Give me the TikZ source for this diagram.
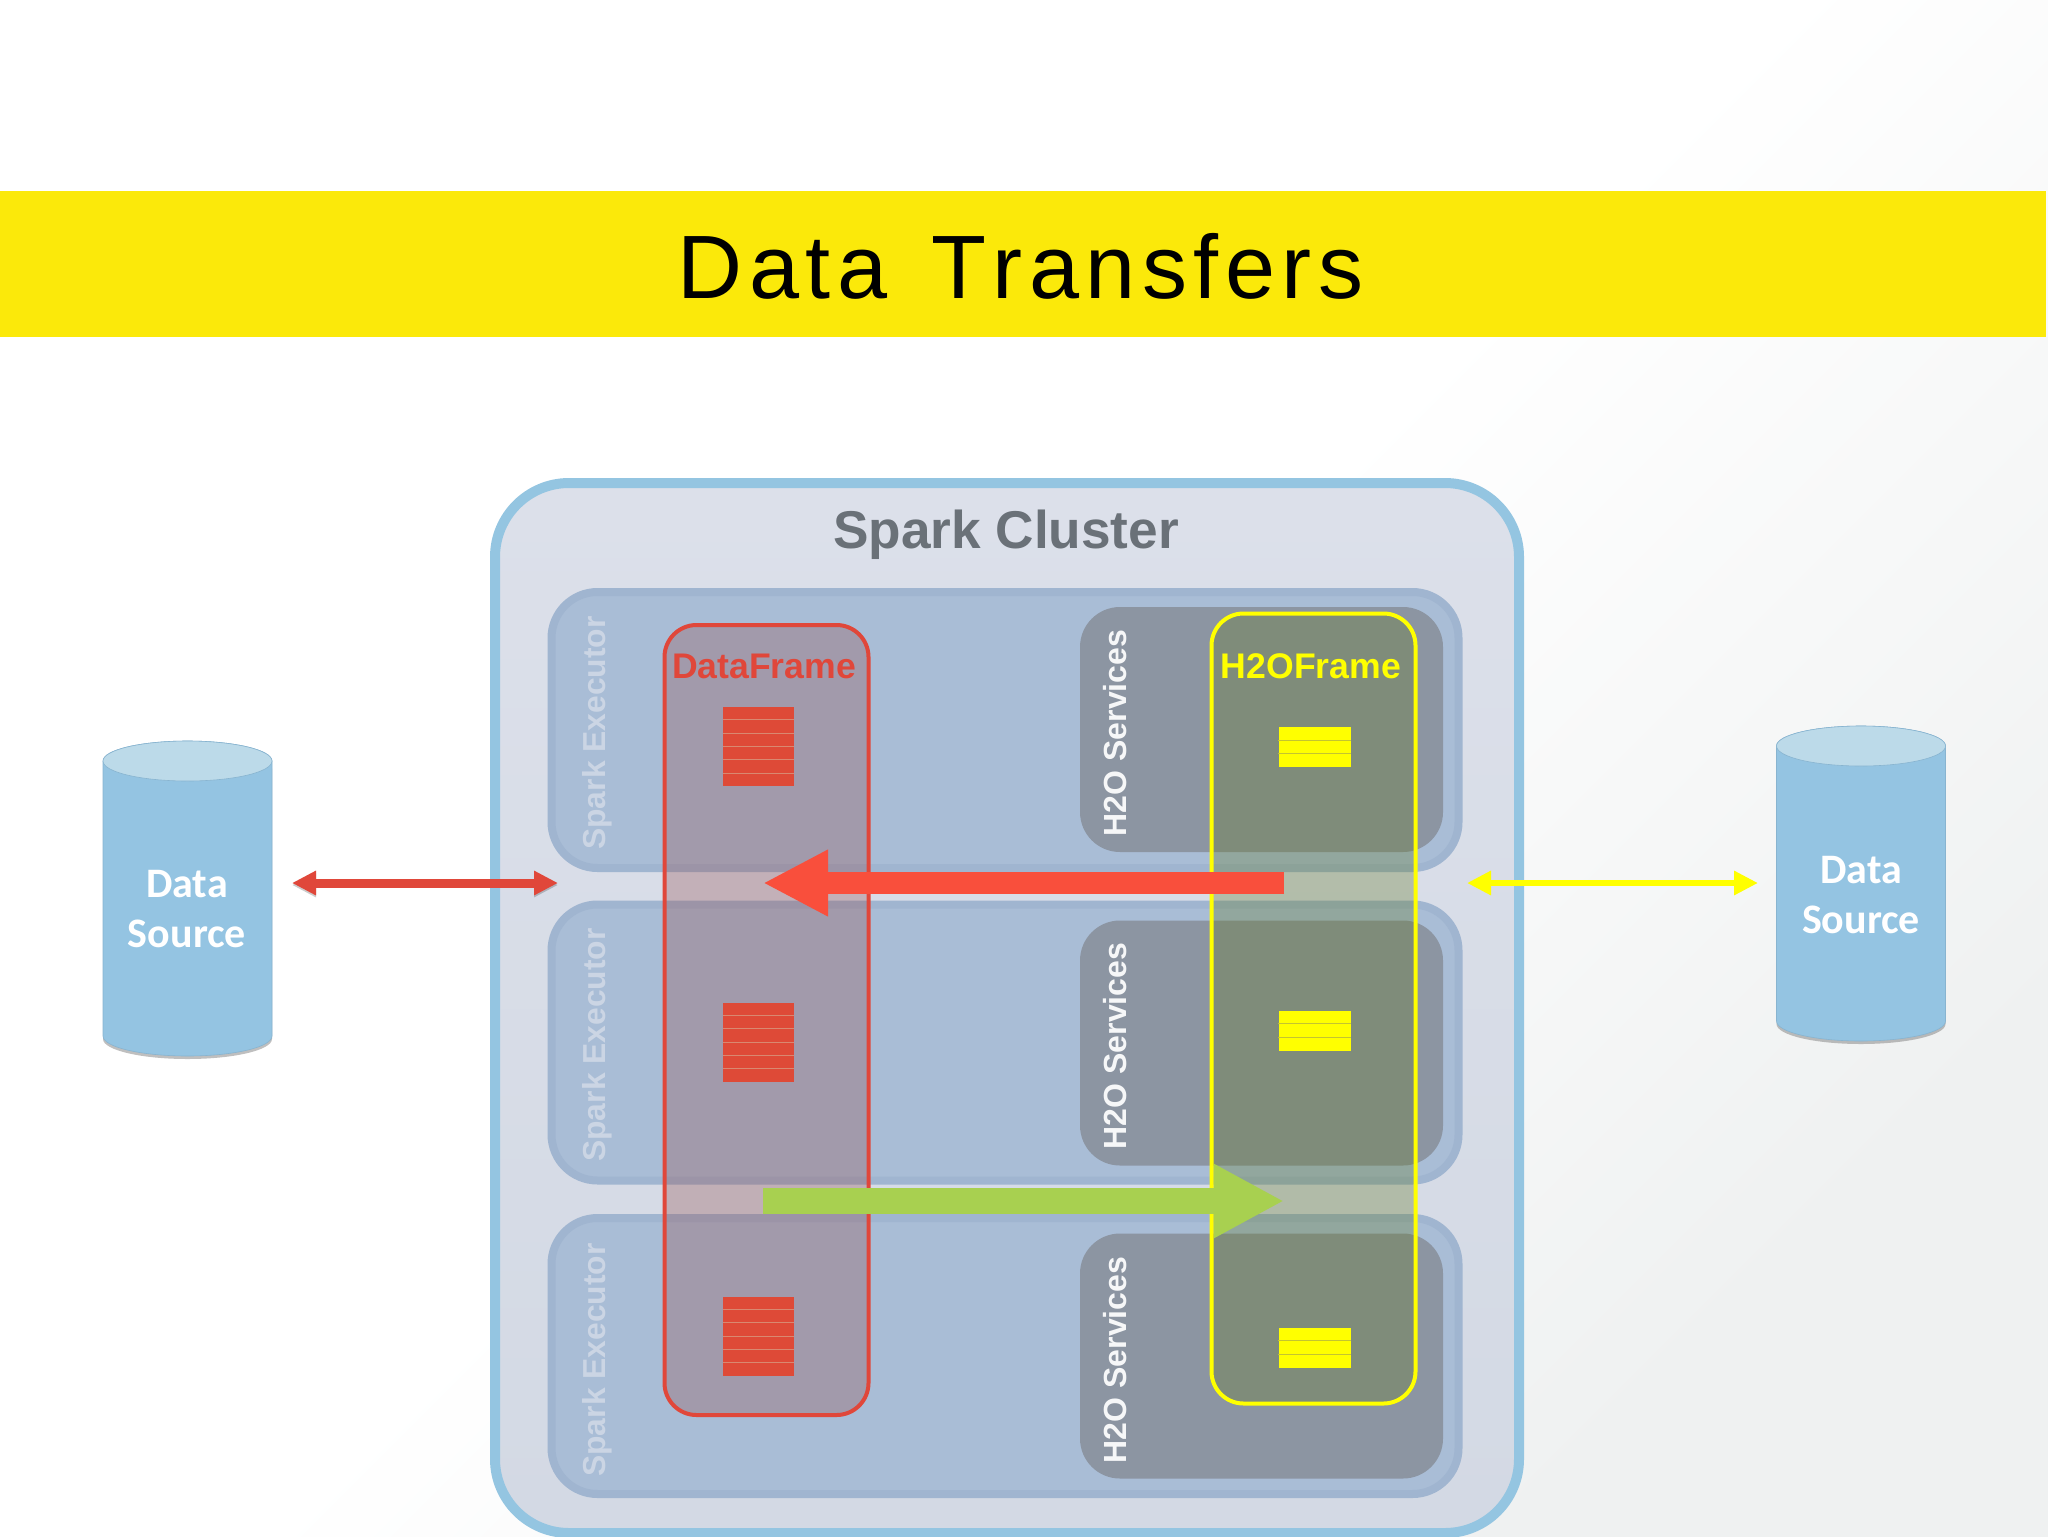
\documentclass[tikz,border=0pt]{standalone}
\usepackage{fontspec}
\setmainfont{Liberation Sans}
\newfontfamily\titlefont[LetterSpace=7.2,WordSpace=1.4,Kerning=Off]{Liberation Sans}
\newfontfamily\sourcefont{Carlito}
\usepackage{tikz}
\usetikzlibrary{arrows.meta,calc,
                positioning}

\definecolor{BannerYellow}{HTML}{FBE90A}
\definecolor{PureYellow}{RGB}{255,255,0}
\definecolor{PageGrey}{HTML}{EFF1F1}
\definecolor{ClusterBlue}{HTML}{94C5E1}
\definecolor{ClusterTop}{HTML}{DCE0EA}
\definecolor{ClusterBottom}{HTML}{D3D9E4}
\definecolor{ExecFill}{HTML}{A9BDD6}
\definecolor{ExecEdge}{HTML}{A0B5D0}
\definecolor{ExecText}{HTML}{CBD5E4}
\definecolor{ServFill}{HTML}{8C95A2}
\definecolor{TitleGrey}{HTML}{6A7178}
\definecolor{FrameRed}{HTML}{E0473A}
\definecolor{FrameRedTint}{HTML}{934A4A}
\definecolor{FrameYellowTint}{HTML}{647A28}
\definecolor{BlockRed}{HTML}{DE4A37}
\definecolor{CellRed}{HTML}{D98870}
\definecolor{CellYellow}{HTML}{C4C430}
\definecolor{MoveRed}{HTML}{F94F3C}
\definecolor{MoveGreen}{HTML}{A8D050}
\definecolor{DrumBody}{HTML}{94C4E2}
\definecolor{DrumTop}{HTML}{BCDAE9}

\begin{document}
\begin{tikzpicture}[x=0.5pt,y=-0.5pt]
  \tikzset{layer/.style = {shape = rectangle, inner sep = 0pt}}
  \tikzset{cluster/.style = {layer, minimum width = 512pt, minimum height = 525pt, rounded corners = 37pt, draw = ClusterBlue, line width = 5pt, top color = ClusterTop, bottom color = ClusterBottom}}
  \tikzset{executor/.style = {layer, minimum width = 453.5pt, minimum height = 138pt, rounded corners = 23pt, fill = ExecFill, draw = ExecEdge, line width = 4pt}}
  \tikzset{services/.style = {layer, minimum width = 181.5pt, minimum height = 122.5pt, rounded corners = 20pt, fill = ServFill}}
  \tikzset{frame/.style = {layer, minimum width = 102pt, minimum height = 395pt, rounded corners = 16pt, line width = 2pt}}
  \tikzset{redblock/.style = {layer, minimum width = 35.5pt, minimum height = 39.5pt, fill = BlockRed}}
  \tikzset{yellowblock/.style = {layer, minimum width = 36pt, minimum height = 20pt, fill = PureYellow}}
  \tikzset{execlabel/.style = {rotate = 90, font = \bfseries\fontsize{15.9}{18}\selectfont, text = ExecText}}
  \tikzset{servlabel/.style = {rotate = 90, font = \bfseries\fontsize{16}{18}\selectfont, text = white!92!ServFill}}
  \tikzset{framelabel/.style = {font = \bfseries\fontsize{17.8}{20}\selectfont}}
  \tikzset{drumlabel/.style = {align = center, text = white, font = \sourcefont\bfseries\fontsize{21}{25}\selectfont}}
  \tikzset{thin arrow/.style = {line width = #1, {Triangle[length = 12pt, width = 11.5pt]}-{Triangle[length = 12pt, width = 11.5pt]}}}
  \tikzset{faint/.style = {preaction = {draw = black, opacity = 0.2, transform canvas = {yshift = -1pt}}}}
  \tikzset{drum/.pic = {
    \fill[gray, opacity = 0.5] (-84.5,-130) -- (-84.5,140.5) arc[x radius = 42.25pt, y radius = 10pt, start angle = 180, end angle = 360] -- (84.5,-130) -- cycle;
    \draw[DrumBody!92!black, line width = 0.3pt, fill = DrumBody] (-84.5,-137.5) -- (-84.5,137.5) arc[x radius = 42.25pt, y radius = 10pt, start angle = 180, end angle = 360] -- (84.5,-137.5) arc[x radius = 42.25pt, y radius = 10pt, start angle = 0, end angle = 180] -- cycle;
    \draw[DrumBody!92!black, line width = 0.3pt, fill = DrumTop] (0,-137.5) ellipse[x radius = 42.25pt, y radius = 10pt];
  }}

  % page
  \useasboundingbox (0,0) rectangle (2048,1536);
  \shade[top color = white, bottom color = PageGrey, middle color = white, shading angle = 45] (0,0) rectangle (2048,1536);
  \fill[BannerYellow] (0,191) rectangle (2046,337);
  \node[font = \titlefont\fontsize{45}{54}\selectfont] (Title) at (1020.5,266) {Data Transfers};

  % cluster
  \node[cluster] (Cluster) at (1007,1008) {};
  \node[font = \bfseries\fontsize{26.6}{30}\selectfont, text = TitleGrey] (ClusterTitle) at (1006,535) {Spark Cluster};

  \node[executor] (E1) at (1005,730) {};
  \node[executor] (E2) at (1005,1042.5) {};
  \node[executor] (E3) at (1005,1356) {};
  \node[execlabel] (EL1) at (597,733) {Spark Executor};
  \node[execlabel] (EL2) at (597,1045) {Spark Executor};
  \node[execlabel] (EL3) at (597,1360) {Spark Executor};

  \node[services] (S1) at (1261.5,729.5) {};
  \node[services] (S2) at (1261.5,1043) {};
  \node[services] (S3) at (1261.5,1356) {};
  \node[servlabel] (SL1) at (1115,733) {H2O Services};
  \node[servlabel] (SL2) at (1115,1046) {H2O Services};
  \node[servlabel] (SL3) at (1115,1360) {H2O Services};

  % frames
  \node[frame, draw = FrameRed, fill = FrameRedTint, fill opacity = 0.3] (DataFrame) at (766.5,1020) {};
  \node[frame, draw = PureYellow, fill = FrameYellowTint, fill opacity = 0.32] (H2OFrame) at (1313.5,1008.5) {};
  \node[framelabel, text = FrameRed] (DataFrameLabel) at (764,666) {DataFrame};
  \node[framelabel, text = PureYellow] (H2OFrameLabel) at (1311,666) {H2OFrame};

  \node[redblock] (R1) at (758.5,746.5) {};
  \node[redblock] (R2) at (758.5,1042) {};
  \node[redblock] (R3) at (758.5,1336) {};
  \foreach \b in {R1,R2,R3}
    \foreach \f in {0.167,0.333,0.5,0.667,0.833}
      \draw[CellRed, line width = 0.5pt] ($(\b.north west)!\f!(\b.south west)$) -- ($(\b.north east)!\f!(\b.south east)$);

  \node[yellowblock] (Y1) at (1314.5,747) {};
  \node[yellowblock] (Y2) at (1314.5,1030.5) {};
  \node[yellowblock] (Y3) at (1314.5,1347.5) {};
  \foreach \b in {Y1,Y2,Y3}
    \foreach \f in {0.333,0.667}
      \draw[CellYellow, line width = 0.5pt] ($(\b.north west)!\f!(\b.south west)$) -- ($(\b.north east)!\f!(\b.south east)$);

  % data sources
  \pic (LeftSource) at (187.5,898.5) {drum};
  \node[drumlabel] (LeftLabel) at (187,909) {Data\\Source};
  \pic (RightSource) at (1861,883.5) {drum};
  \node[drumlabel] (RightLabel) at (1861,895.5) {Data\\Source};

  % transfers
  \coordinate (LeftOut) at (292,883);
  \coordinate (LeftIn) at (558,883);
  \coordinate (RightOut) at (1758,883);
  \coordinate (RightIn) at (1467,883);
  \coordinate (MoveStart) at (1284,883);
  \coordinate (MoveEnd) at (763,883);
  \coordinate (PushStart) at (763,1201);
  \coordinate (PushEnd) at (1284,1201);

  \draw[thin arrow = 4.5pt, FrameRed, faint] (LeftOut) -- (LeftIn);
  \draw[thin arrow = 3pt, PureYellow, faint] (RightIn) -- (RightOut);
  \draw[MoveRed, line width = 11pt, -{Triangle[length = 32.5pt, width = 31pt]}] (MoveStart) -- (MoveEnd);
  \draw[MoveGreen, line width = 13pt, -{Triangle[length = 35pt, width = 34.5pt]}] (PushStart) -- (PushEnd);

\end{tikzpicture}
\end{document}
